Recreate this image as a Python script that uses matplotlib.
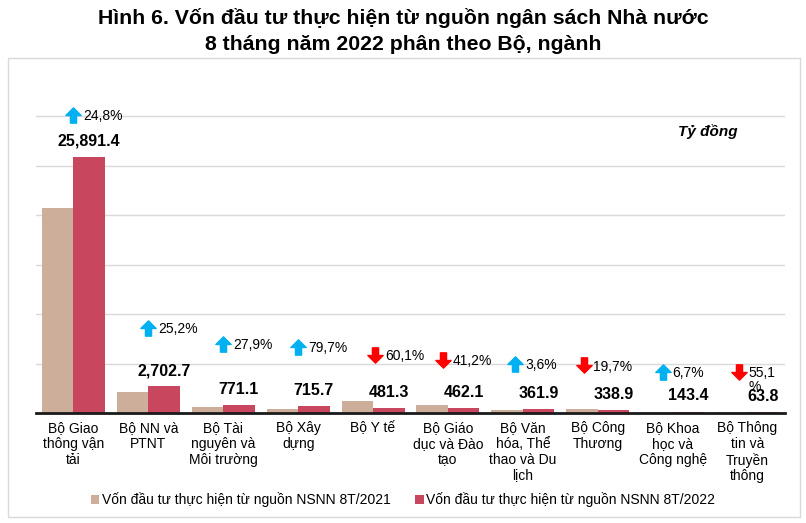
import matplotlib
matplotlib.use("Agg")
import matplotlib.pyplot as plt
import numpy as np
from matplotlib.path import Path
from matplotlib.patches import Rectangle

plt.rcParams["font.family"] = ["Liberation Sans", "DejaVu Sans"]

categories = [
    "Bộ Giao\nthông vận\ntải",
    "Bộ NN và\nPTNT",
    "Bộ Tài\nnguyên và\nMôi trường",
    "Bộ Xây\ndựng",
    "Bộ Y tế",
    "Bộ Giáo\ndục và Đào\ntạo",
    "Bộ Văn\nhóa, Thể\nthao và Du\nlịch",
    "Bộ Công\nThương",
    "Bộ Khoa\nhọc và\nCông nghệ",
    "Bộ Thông\ntin và\nTruyền\nthông",
]
von_2021 = [20746, 2159, 603, 398, 1206, 786, 349, 422, 134, 142]
von_2022 = [25891.4, 2702.7, 771.1, 715.7, 481.3, 462.1, 361.9, 338.9, 143.4, 63.8]
value_labels = ["25,891.4", "2,702.7", "771.1", "715.7", "481.3",
                "462.1", "361.9", "338.9", "143.4", "63.8"]
change_labels = ["24,8%", "25,2%", "27,9%", "79,7%", "60,1%",
                 "41,2%", "3,6%", "19,7%", "6,7%", "55,1\n%"]
change_up = [True, True, True, True, False, False, True, False, True, False]
legend_labels = ["Vốn đầu tư thực hiện từ nguồn NSNN 8T/2021",
                 "Vốn đầu tư thực hiện từ nguồn NSNN 8T/2022"]

# layout of the hand-placed change markers (data y, x shift in category units)
change_y = [30100, 8600, 7000, 6700, 5900, 5400, 5000, 4800, 4150, 4150]
change_dx = [0.0, 0.0, 0.0, 0.0, 0.03, -0.07, -0.1, -0.19, -0.13, -0.12]

c2021 = "#CDAE9A"
c2022 = "#C8475F"
c_up = "#00B0F0"
c_down = "#FF0000"

up_arrow = Path(
    [(-0.5, 0.0), (0.0, 0.5), (0.5, 0.0), (0.2, 0.0), (0.2, -0.5), (-0.2, -0.5), (-0.2, 0.0), (-0.5, 0.0)],
    [Path.MOVETO] + [Path.LINETO] * 6 + [Path.CLOSEPOLY],
)
down_arrow = Path(up_arrow.vertices * np.array([1, -1]), up_arrow.codes)

fig = plt.figure(figsize=(8.06, 5.23), dpi=100)
ax = fig.add_axes([36 / 806, 110 / 523, 749 / 806, 323 / 523])

x = np.arange(len(categories))
w = 0.42
ax.bar(x - w / 2, von_2021, w, color=c2021, label=legend_labels[0], zorder=2)
ax.bar(x + w / 2, von_2022, w, color=c2022, label=legend_labels[1], zorder=2)

for xi, v, lab in zip(x, von_2022, value_labels):
    ax.annotate(lab, (xi + w / 2, v), xytext=(0, 8), textcoords="offset points",
                ha="center", va="baseline", fontsize=11.5, fontweight="bold", zorder=4)

for xi, y, dx, up, lab in zip(x, change_y, change_dx, change_up, change_labels):
    ax.plot(xi + dx, y, marker=up_arrow if up else down_arrow, markersize=11,
            color=c_up if up else c_down, linestyle="none", zorder=5)
    ax.annotate(lab, (xi + dx, y), xytext=(7, 4), textcoords="offset points",
                ha="left", va="top", fontsize=10, linespacing=1.0, zorder=5)

ax.set_xlim(-0.5, len(categories) - 0.5)
ax.set_ylim(0, 32630)
ax.set_yticks(np.arange(5000, 30001, 5000))
ax.set_yticklabels([])
ax.tick_params(axis="y", length=0)
ax.grid(axis="y", color="#D9D9D9", linewidth=1, zorder=0)
ax.set_axisbelow(True)

ax.set_xticks(x)
ax.set_xticklabels(categories, fontsize=10, linespacing=1.15)
ax.tick_params(axis="x", length=0, pad=6)

for side in ["left", "right", "top"]:
    ax.spines[side].set_visible(False)
ax.spines["bottom"].set_linewidth(2)
ax.spines["bottom"].set_color("#1a1a1a")

fig.text(738 / 806, 1 - 132 / 523, "Tỷ đồng", ha="right", va="center",
         fontsize=11, fontweight="bold", style="italic")

fig.text(0.5, 1 - 31 / 523, "Hình 6. Vốn đầu tư thực hiện từ nguồn ngân sách Nhà nước\n8 tháng năm 2022 phân theo Bộ, ngành",
         ha="center", va="center", fontsize=15.3, fontweight="bold", linespacing=1.45)

fig.legend(loc="center", bbox_to_anchor=(0.5, 23 / 523), ncol=2, frameon=False, fontsize=10,
           handlelength=0.6, handleheight=0.6, handletextpad=0.2, columnspacing=1.8)

fig.patches.append(Rectangle((8 / 806, 6 / 523), 792 / 806, 459 / 523, transform=fig.transFigure,
                             fill=False, edgecolor="#D9D9D9", linewidth=1))

fig.savefig("out.png", dpi=100)
